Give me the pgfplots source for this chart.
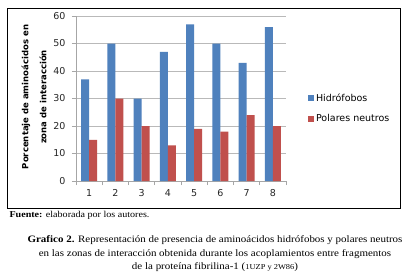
\documentclass[border=0pt]{standalone}
\usepackage{pgfplots}
\pgfplotsset{compat=1.18}
\usepackage{fontspec}
\setmainfont{Liberation Serif}
\newfontfamily\capfont[FakeStretch=1.12]{Liberation Serif}
\newfontfamily\chartfont{DejaVu Sans}
\definecolor{cblue}{HTML}{4F81BD}
\definecolor{cred}{HTML}{C0504D}
\begin{document}
\begin{tikzpicture}[x=1pt,y=1pt]
\useasboundingbox[fill=white] (0,0) rectangle (410,-277);
\draw[black, line width=0.8pt] (7,-8) rectangle (400,-208);
\begin{axis}[
  at={(76pt,-181pt)}, anchor=south west,
  scale only axis, width=210pt, height=165pt,
  xmin=0.5, xmax=8.5, ymin=0, ymax=60,
  axis x line*=bottom, axis y line*=left,
  axis line style={gray!70, line width=0.6pt},
  ytick={0,10,...,60}, ymajorgrids,
  grid style={gray!55, line width=0.6pt},
  xtick={0.5,1.5,...,8.5}, xticklabels={},
  extra x ticks={1,2,...,8},
  extra x tick style={major tick length=0pt, grid=none, xticklabel style={yshift=-5pt}},
  major tick length=4pt, tick align=outside,
  tick style={gray!70, line width=0.6pt},
  /pgf/number format/assume math mode=true,
  ticklabel style={font=\chartfont\fontsize{9.5}{10}\selectfont, text=black!85},
  yticklabel style={xshift=-3pt},
  ybar, bar width=8pt,
  legend style={at={(1.09,0.44)}, anchor=west, draw=none, fill=none,
    font=\chartfont\fontsize{9.5}{10}\selectfont, row sep=8pt},
  legend cell align=left,
  legend image code/.code={\draw[#1,draw=none] (0pt,-3pt) rectangle (6pt,3pt);},
]
\addplot[fill=cblue, draw=none, bar shift=-4pt] coordinates {(1,37) (2,50) (3,30) (4,47) (5,57) (6,50) (7,43) (8,56)};
\addlegendentry{Hidrófobos}
\addplot[fill=cred, draw=none, bar shift=4pt] coordinates {(1,15) (2,30) (3,20) (4,13) (5,19) (6,18) (7,24) (8,20)};
\addlegendentry{Polares neutros}
\end{axis}
\node[rotate=90, align=center, font=\chartfont\bfseries\fontsize{8.5}{18}\selectfont] at (34,-97) {Porcentaje de aminoácidos en\\zona de interacción};
\node[anchor=west, font=\capfont\fontsize{9}{11}\selectfont] at (6,-215) {\textbf{Fuente:} elaborada por los autores.};
\node[align=center, font=\capfont\fontsize{9.8}{13.5}\selectfont] at (215,-254) {\textbf{Grafico 2.} Representación de presencia de aminoácidos hidrófobos y polares neutros\\en las zonas de interacción obtenida durante los acoplamientos entre fragmentos\\de la proteína fibrilina-1 ({\fontsize{7.5}{9}\selectfont 1UZP y 2W86})};
\end{tikzpicture}
\end{document}
